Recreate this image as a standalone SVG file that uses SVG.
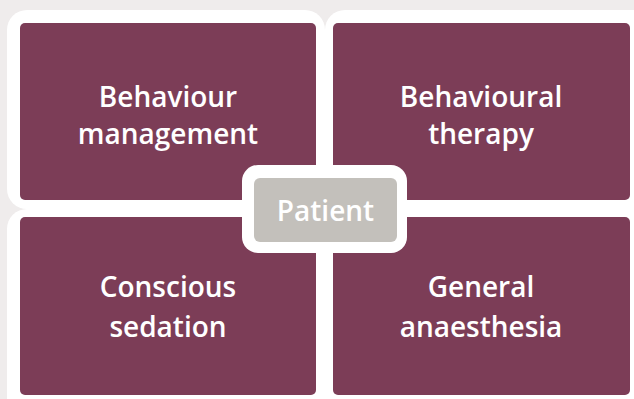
<svg xmlns="http://www.w3.org/2000/svg" width="634" height="399" viewBox="0 0 634 399">
<style>
.card{fill:#ffffff}
.box{fill:#7c3d57}
.lbl{font-family:"Open Sans","Noto Sans",sans-serif;font-weight:600;font-size:28px;fill:#ffffff;text-anchor:middle}
</style>
<rect x="0" y="0" width="634" height="399" fill="#efecec"/>
<g id="cards">
<rect class="card" x="7" y="10" width="318" height="199" rx="20"/>
<rect class="card" x="325" y="10" width="330" height="199" rx="20"/>
<rect class="card" x="7" y="209" width="318" height="210" rx="20"/>
<rect class="card" x="325" y="209" width="330" height="210" rx="20"/>
</g>
<g id="behaviour-management">
<rect class="box" x="20" y="23" width="296" height="177" rx="5"/>
<text class="lbl" x="168" y="107">Behaviour</text>
<text class="lbl" x="168" y="144">management</text>
</g>
<g id="behavioural-therapy">
<rect class="box" x="333" y="23" width="297" height="177" rx="5"/>
<text class="lbl" x="481" y="107">Behavioural</text>
<text class="lbl" x="481" y="144">therapy</text>
</g>
<g id="conscious-sedation">
<rect class="box" x="20" y="217" width="296" height="178" rx="5"/>
<text class="lbl" x="168" y="297">Conscious</text>
<text class="lbl" x="168" y="337">sedation</text>
</g>
<g id="general-anaesthesia">
<rect class="box" x="333" y="217" width="297" height="178" rx="5"/>
<text class="lbl" x="481" y="297">General</text>
<text class="lbl" x="481" y="337">anaesthesia</text>
</g>
<g id="patient">
<rect x="242" y="165" width="165" height="88" rx="16" fill="#ffffff"/>
<rect x="254" y="178" width="143" height="64" rx="6" fill="#c3c0bb"/>
<text class="lbl" x="325.5" y="221">Patient</text>
</g>
<g id="connectors"></g>
</svg>
